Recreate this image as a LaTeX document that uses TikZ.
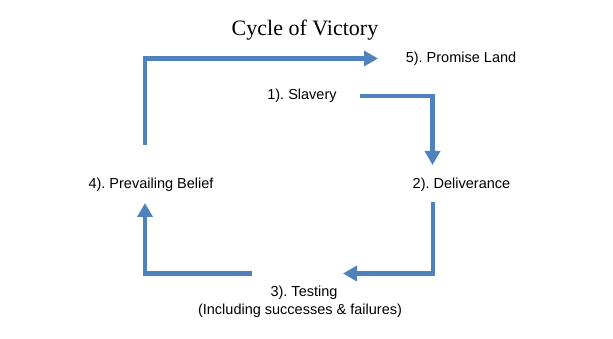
\documentclass[tikz,border=0pt]{standalone}
\usepackage{fontspec}
\setmainfont{Liberation Serif}
\setsansfont{Liberation Sans}
\usetikzlibrary{arrows.meta}
\definecolor{arrowblue}{RGB}{79,129,189}
\tikzset{
  lbl/.style={font=\sffamily\fontsize{14.5}{16}\selectfont, inner sep=0pt, anchor=base},
  flow/.style={draw=arrowblue, line width=4.5pt, line join=miter,
    -{Triangle[length=14pt,width=15pt]}},
}
\begin{document}
\begin{tikzpicture}[x=1pt,y=-1pt]
\useasboundingbox (0,0) rectangle (613,339);
\node[font=\rmfamily\fontsize{22}{24}\selectfont, inner sep=0pt, anchor=base] (title) at (305,36) {Cycle of Victory};
\node[lbl] (promise) at (461,63) {5).\ Promise Land};
\node[lbl] (slavery) at (302,100) {1).\ Slavery};
\node[lbl] (deliv) at (461.5,189) {2).\ Deliverance};
\node[lbl] (belief) at (151,189) {4).\ Prevailing Belief};
\node[lbl] (testing) at (304,296) {3).\ Testing};
\node[lbl] (incl) at (300,314) {(Including successes \& failures)};
\coordinate (a1s) at (145,145);
\coordinate (a1e) at (378,58.5);
\coordinate (a2s) at (360,96);
\coordinate (a2e) at (432.5,165);
\coordinate (a3s) at (433,202);
\coordinate (a3e) at (343,273.5);
\coordinate (a4s) at (252,273.5);
\coordinate (a4e) at (145,203);
\draw[flow] (a1s) |- (a1e);
\draw[flow] (a2s) -| (a2e);
\draw[flow] (a3s) |- (a3e);
\draw[flow] (a4s) -| (a4e);
\end{tikzpicture}
\end{document}
